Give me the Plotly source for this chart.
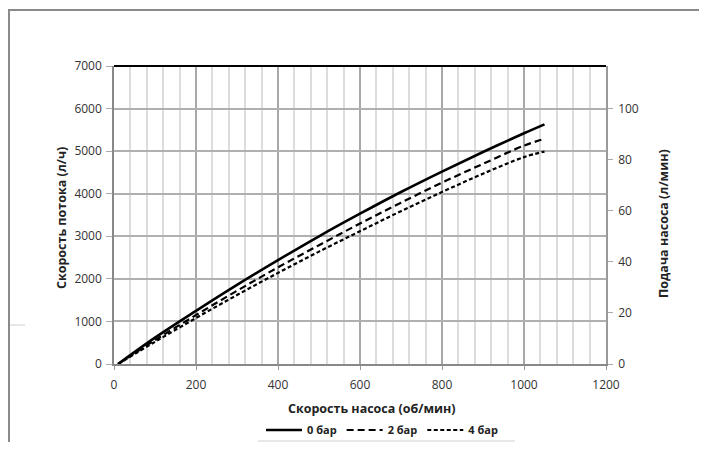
import plotly.graph_objects as go

# ---- data ----
rpm = [10, 100, 200, 300, 400, 500, 600, 700, 800, 900, 1000, 1050]
flow_0bar = [0, 620, 1250, 1860, 2440, 3000, 3530, 4040, 4520, 4980, 5420, 5630]
flow_2bar = [0, 560, 1150, 1720, 2270, 2790, 3300, 3790, 4260, 4700, 5130, 5290]
flow_4bar = [0, 520, 1080, 1620, 2140, 2640, 3120, 3590, 4040, 4470, 4860, 4990]
series_names = ["0 бар", "2 бар", "4 бар"]
x_ticks = [0, 200, 400, 600, 800, 1000, 1200]
y_ticks = [0, 1000, 2000, 3000, 4000, 5000, 6000, 7000]
y2_ticks = [0, 20, 40, 60, 80, 100]
x_title = "Скорость насоса (об/мин)"
y_title = "Скорость потока (л/ч)"
y2_title = "Подача насоса (л/мин)"

FONT = "Open Sans"
OFF = 8                      # page body margin
W, H = 707 - 2 * OFF, 450 - 2 * OFF
# plot box in page pixels: x 114..606, y 66..364
L, T = 114 - OFF, 66 - OFF
R = W - (606 - OFF)
B = H - (364 - OFF)
pw, ph = W - L - R, H - T - B

def px(xpage):
    return (xpage - OFF - L) / pw

def py(ypage):
    return (H - B - (ypage - OFF)) / ph

fig = go.Figure()
styles = [("solid", 2.6), ("7px,4px", 2.2), ("4px,2.5px", 2.2)]
for name, ys, (dash, w) in zip(series_names, [flow_0bar, flow_2bar, flow_4bar], styles):
    fig.add_trace(go.Scatter(x=rpm, y=ys, mode="lines", name="<b>" + name + "</b>",
                             line=dict(color="black", width=w, dash=dash, shape="spline")))

# invisible trace to activate right axis
fig.add_trace(go.Scatter(x=[0], y=[0], yaxis="y2", mode="markers",
                         marker=dict(opacity=0), showlegend=False, hoverinfo="skip"))

title_font = dict(family=FONT, size=12.5, color="#222")
tick_font = dict(family=FONT, size=12, color="#333")
fig.update_layout(
    width=W, height=H,
    margin=dict(l=L, r=R, t=T, b=B, autoexpand=False),
    paper_bgcolor="white", plot_bgcolor="white",
    font=dict(family=FONT, size=12, color="#333"),
    showlegend=True,
    legend=dict(orientation="h", x=px(382), xanchor="center", y=py(430), yanchor="middle",
                font=dict(family=FONT, size=11, color="#222"),
                itemwidth=36, tracegroupgap=0, bgcolor="rgba(0,0,0,0)"),
    xaxis=dict(range=[0, 1200], tickvals=x_ticks, ticks="outside", ticklen=4,
               tickcolor="#999", showline=True, linecolor="#888", linewidth=1.5,
               showgrid=True, gridcolor="#a8a8a8", gridwidth=1.5, automargin=False,
               minor=dict(dtick=40, showgrid=True, gridcolor="#dcdcdc", gridwidth=1.5),
               zeroline=False, tickfont=tick_font, ticklabelstandoff=5),
    yaxis=dict(range=[0, 7000], tickvals=y_ticks, ticks="outside", ticklen=6,
               tickcolor="#aaa", showline=True, linecolor="#888", linewidth=1.5,
               showgrid=True, gridcolor="#b0b0b0", gridwidth=1.5, zeroline=False,
               automargin=False, tickfont=tick_font, ticklabelstandoff=2),
    yaxis2=dict(range=[0, 7000 / 60], tickvals=y2_ticks, overlaying="y", side="right",
                ticks="outside", ticklen=5, tickcolor="#aaa", showline=True,
                linecolor="#999", linewidth=1.5, showgrid=False, zeroline=False,
                automargin=False, tickfont=tick_font, ticklabelstandoff=3),
)

fig.add_annotation(text="<b>" + x_title + "</b>", xref="paper", yref="paper",
                   x=px(372), y=py(408), xanchor="center", yanchor="middle",
                   showarrow=False, font=title_font)
fig.add_annotation(text="<b>" + y_title + "</b>", xref="paper", yref="paper",
                   x=px(62), y=py(218), xanchor="center", yanchor="middle",
                   textangle=-90, showarrow=False, font=title_font)
fig.add_annotation(text="<b>" + y2_title + "</b>", xref="paper", yref="paper",
                   x=px(663), y=py(224), xanchor="center", yanchor="middle",
                   textangle=-90, showarrow=False, font=title_font)

# top border line (black) of plot
fig.add_shape(type="line", xref="paper", yref="paper", x0=0, x1=1, y0=1, y1=1,
              line=dict(color="black", width=2))
# outer frame (left and top) of the picture
fig.add_shape(type="line", xref="paper", yref="paper", x0=px(8), x1=px(720),
              y0=py(10), y1=py(10), line=dict(color="#8a8a8a", width=2))
fig.add_shape(type="line", xref="paper", yref="paper", x0=px(9), x1=px(9),
              y0=py(10), y1=py(460), line=dict(color="#8a8a8a", width=2))
# faint box fragments
fig.add_shape(type="line", xref="paper", yref="paper", x0=px(258), x1=px(515),
              y0=py(441), y1=py(441), line=dict(color="#d0d0d0", width=1))
fig.add_shape(type="line", xref="paper", yref="paper", x0=px(10), x1=px(25),
              y0=py(325), y1=py(325), line=dict(color="#d0d0d0", width=1))

fig.write_html("out.html")
